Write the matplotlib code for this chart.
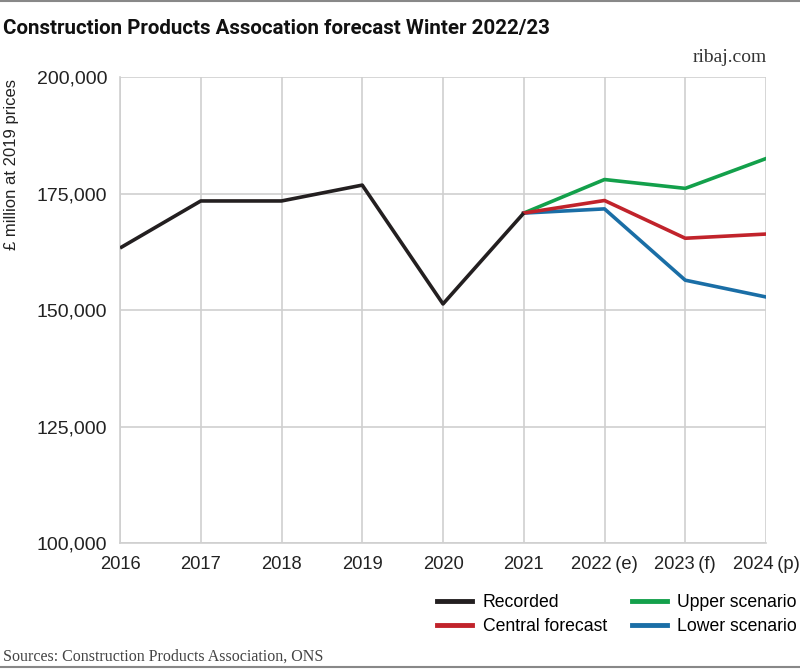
import matplotlib
matplotlib.use("Agg")
import matplotlib.pyplot as plt
from matplotlib.lines import Line2D
from matplotlib.ticker import FuncFormatter

# data
years = ["2016", "2017", "2018", "2019", "2020", "2021",
         "2022\u2009(e)", "2023\u2009(f)", "2024\u2009(p)"]
recorded = [163300, 173400, 173400, 176800, 151300, 170800]
upper = [170800, 178000, 176100, 182500]
central = [170800, 173500, 165400, 166300]
lower = [170800, 171700, 156400, 152800]
yticks = [100000, 125000, 150000, 175000, 200000]

c_rec = "#231f20"
c_up = "#13a04b"
c_cen = "#c1232b"
c_low = "#1a6ea6"

fig = plt.figure(figsize=(8, 6.69), dpi=100)
ax = fig.add_axes([0.15, 0.1883, 0.8075, 0.6966])

x = list(range(len(years)))
lw = 2.6
ax.plot(x[:6], recorded, color=c_rec, lw=lw, zorder=5, solid_capstyle="butt")
ax.plot(x[5:], upper, color=c_up, lw=lw, zorder=4)
ax.plot(x[5:], lower, color=c_low, lw=lw, zorder=4)
ax.plot(x[5:], central, color=c_cen, lw=lw, zorder=4)

ax.set_xlim(0, len(years) - 1)
ax.set_ylim(100000, 200000)
ax.set_xticks(x)
ax.set_xticklabels(years)
ax.set_yticks(yticks)
ax.yaxis.set_major_formatter(FuncFormatter(lambda v, p: f"{int(v):,}"))
ax.grid(True, color="#cfcfcf", lw=1.2)
ax.set_axisbelow(True)
for s in ax.spines.values():
    s.set_visible(False)
ax.spines["left"].set_visible(True)
ax.spines["bottom"].set_visible(True)
ax.spines["left"].set_color("#cfcfcf")
ax.spines["bottom"].set_color("#cfcfcf")
ax.spines["left"].set_linewidth(1.2)
ax.spines["bottom"].set_linewidth(1.2)
ax.tick_params(length=0, colors="#222222")
ax.tick_params(axis="x", labelsize=13.2, pad=9)
ax.tick_params(axis="y", labelsize=14, pad=9)
for t in ax.get_xticklabels() + ax.get_yticklabels():
    t.set_fontfamily("Liberation Sans")
# last label sits on the right edge, nudge it in slightly
ax.get_xticklabels()[-1].set_horizontalalignment("right")
ax.get_xticklabels()[-1].set_x(len(years) - 1)
ax.get_xticklabels()[-1].set_ha("center")

fig.text(0.004, 0.958, "Construction Products Assocation forecast Winter 2022/23",
         fontsize=14.8, fontweight="bold", family="Roboto", color="#111111", va="center")
fig.text(0.958, 0.914, "ribaj.com", fontsize=14, family="Liberation Serif",
         color="#333333", ha="right", va="center")
fig.text(0.015, 0.882, "£ million at 2019 prices", rotation=90, fontsize=12,
         family="Liberation Sans", color="#222222", ha="center", va="top")
fig.text(0.004, 0.018, "Sources: Construction Products Association, ONS", fontsize=11.5,
         family="Liberation Serif", color="#444444", va="center")

# rules at top and bottom
fig.add_artist(Line2D([0, 1], [0.999, 0.999], color="#888888", lw=1.5))
fig.add_artist(Line2D([0, 1], [0.003, 0.003], color="#888888", lw=1.5))

handles = [Line2D([], [], color=c_rec, lw=3.5), Line2D([], [], color=c_cen, lw=3.5),
           Line2D([], [], color=c_up, lw=3.5), Line2D([], [], color=c_low, lw=3.5)]
labels = ["Recorded", "Central forecast", "Upper scenario", "Lower scenario"]
leg = fig.legend(handles, labels, ncol=2, loc="center left", bbox_to_anchor=(0.535, 0.081),
                 frameon=False, handlelength=2.0, handletextpad=0.6, columnspacing=1.4,
                 labelspacing=0.4, borderpad=0,
                 prop={"family": "Liberation Sans", "size": 12.7})

fig.savefig("out.png", dpi=100)
